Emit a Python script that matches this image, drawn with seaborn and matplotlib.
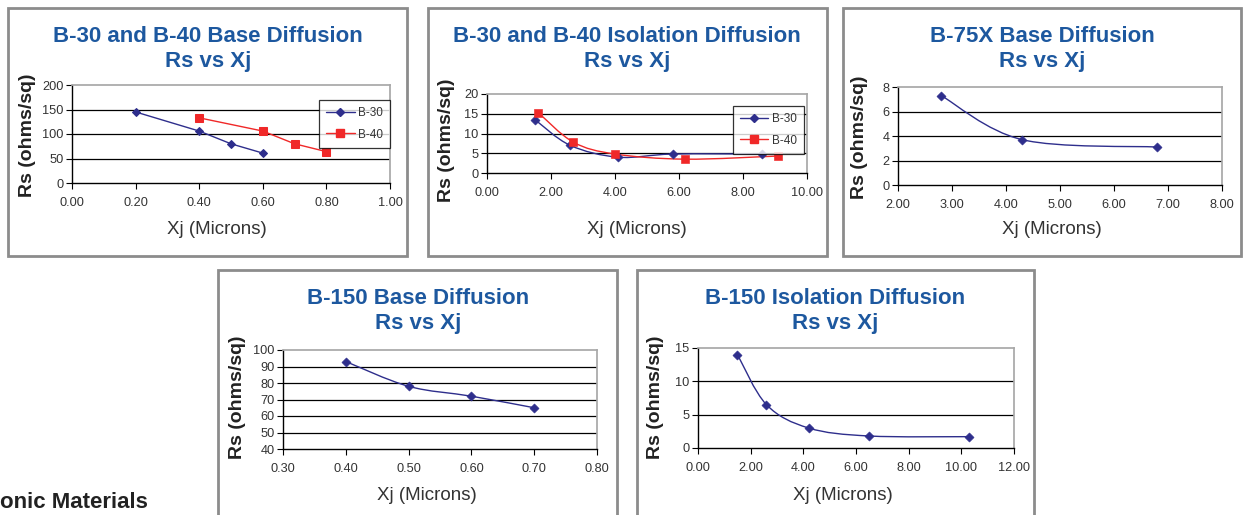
import matplotlib.pyplot as plt
import numpy as np
import seaborn as sns
from matplotlib.lines import Line2D
from matplotlib.patches import PathPatch, Rectangle
from matplotlib.path import Path

# --- data ---
base_b30_xj = [0.20, 0.40, 0.50, 0.60]
base_b30_rs = [145, 106, 80, 61]
base_b40_xj = [0.40, 0.60, 0.70, 0.80]
base_b40_rs = [133, 106, 80, 64]

iso_b30_xj = [1.5, 2.6, 4.1, 5.8, 8.6]
iso_b30_rs = [13.5, 7.0, 4.0, 4.8, 4.8]
iso_b40_xj = [1.6, 2.7, 4.0, 6.2, 9.1]
iso_b40_rs = [15.3, 7.8, 4.8, 3.5, 4.3]

b75x_xj = [2.8, 4.3, 6.8]
b75x_rs = [7.3, 3.7, 3.1]

b150_base_xj = [0.40, 0.50, 0.60, 0.70]
b150_base_rs = [93, 78, 72, 65]

b150_iso_xj = [1.5, 2.6, 4.2, 6.5, 10.3]
b150_iso_rs = [14.0, 6.5, 3.0, 1.8, 1.7]

BLUE = "#2e2e8c"
RED = "#f02828"
TITLE_BLUE = "#1d589f"
W, H = 1244, 515

sns.set_theme(style="white")
plt.rcParams["font.family"] = ["Liberation Sans", "DejaVu Sans"]

fig = plt.figure(figsize=(W / 100, H / 100), dpi=100)


def px_axes(left, top, right, bottom):
    return fig.add_axes([left / W, 1 - bottom / H, (right - left) / W, (bottom - top) / H])


def px_text(x, y, s, **kw):
    fig.text(x / W, 1 - y / H, s, ha="center", va="center", **kw)


def smooth_line(ax, xs, ys, color):
    # Excel-style smoothed line (Catmull-Rom as Bezier)
    pts = np.column_stack([xs, ys]).astype(float)
    n = len(pts)
    verts, codes = [pts[0]], [Path.MOVETO]
    for i in range(n - 1):
        p0, p1 = pts[max(i - 1, 0)], pts[i]
        p2, p3 = pts[i + 1], pts[min(i + 2, n - 1)]
        verts += [p1 + (p2 - p0) / 6, p2 - (p3 - p1) / 6, p2]
        codes += [Path.CURVE4] * 3
    ax.add_patch(PathPatch(Path(verts, codes), fill=False, edgecolor=color, lw=1.0, zorder=3))


def style_axes(ax, xticks, yticks):
    ax.set_xlim(xticks[0], xticks[-1])
    ax.set_ylim(yticks[0], yticks[-1])
    ax.set_xticks(xticks)
    ax.set_yticks(yticks)
    ax.set_xticklabels([f"{t:.2f}" for t in xticks])
    ax.set_yticklabels([str(t) for t in yticks])
    for t in yticks[1:-1]:
        ax.axhline(t, color="black", lw=0.9, zorder=1)
    for s in ["top", "right"]:
        ax.spines[s].set_color("#a8a8a8")
    for s in ["left", "bottom"]:
        ax.spines[s].set_color("black")
        ax.spines[s].set_linewidth(1.0)
    ax.tick_params(axis="both", direction="out", length=4, width=0.8, color="black",
                   labelsize=9.2, labelcolor="#333333")
    ax.tick_params(axis="x", pad=6)
    ax.tick_params(axis="y", pad=2)
    ax.xaxis.set_ticks_position("bottom")
    ax.yaxis.set_ticks_position("left")
    ax.set_xlabel("")
    ax.set_ylabel("")


def add_legend(ax, x0, y0):
    handles = [
        Line2D([], [], color=BLUE, lw=1, marker="D", markersize=4.5),
        Line2D([], [], color=RED, lw=1, marker="s", markersize=5.5),
    ]
    leg = ax.legend(handles, ["B-30", "B-40"], loc="upper left", bbox_to_anchor=(x0, y0),
                    borderaxespad=0, frameon=True, fancybox=False, fontsize=8.5,
                    handlelength=2.4, handletextpad=0.3, labelspacing=0.8,
                    borderpad=0.6, labelcolor="#333333")
    leg.get_frame().set_edgecolor("black")
    leg.get_frame().set_linewidth(0.9)


def panel_frame(x0, y0, x1, y1):
    fig.patches.append(Rectangle((x0 / W, 1 - y1 / H), (x1 - x0) / W, (y1 - y0) / H,
                                 transform=fig.transFigure, fill=False,
                                 edgecolor="#8c8c8c", lw=2.0))


def labels(cx, ty, xl, yl, title):
    px_text(cx, ty, title[0], fontsize=16, color=TITLE_BLUE, fontweight="bold")
    px_text(cx, ty + 25, title[1], fontsize=16, color=TITLE_BLUE, fontweight="bold")
    px_text(xl[0], xl[1], "Xj (Microns)", fontsize=13.5, color="#333333")
    px_text(yl[0], yl[1], "Rs (ohms/sq)", fontsize=14, color="#222222",
            rotation=90, fontweight="bold")


# 1: B-30 and B-40 base diffusion
panel_frame(8, 8, 407, 256)
ax1 = px_axes(72, 85, 390, 183)
sns.lineplot(x=base_b30_xj, y=base_b30_rs, ax=ax1, color=BLUE, marker="D",
             markersize=4.5, markeredgecolor=BLUE, lw=1)
sns.lineplot(x=base_b40_xj, y=base_b40_rs, ax=ax1, color=RED, marker="s",
             markersize=5.5, markeredgecolor=RED, lw=1)
style_axes(ax1, [0.0, 0.2, 0.4, 0.6, 0.8, 1.0], [0, 50, 100, 150, 200])
add_legend(ax1, 0.777, 0.847)
labels(208, 36, (217, 230), (27, 135), ["B-30 and B-40 Base Diffusion", "Rs vs Xj"])

# 2: B-30 and B-40 isolation diffusion
panel_frame(428, 8, 827, 256)
ax2 = px_axes(487, 94, 807, 173)
smooth_line(ax2, iso_b30_xj, iso_b30_rs, BLUE)
smooth_line(ax2, iso_b40_xj, iso_b40_rs, RED)
sns.scatterplot(x=iso_b30_xj, y=iso_b30_rs, ax=ax2, color=BLUE, marker="D", s=22,
                edgecolor=BLUE, zorder=4)
sns.scatterplot(x=iso_b40_xj, y=iso_b40_rs, ax=ax2, color=RED, marker="s", s=32,
                edgecolor=RED, zorder=4)
style_axes(ax2, [0.0, 2.0, 4.0, 6.0, 8.0, 10.0], [0, 5, 10, 15, 20])
add_legend(ax2, 0.769, 0.848)
labels(627, 36, (637, 230), (446, 140), ["B-30 and B-40 Isolation Diffusion", "Rs vs Xj"])

# 3: B-75X base diffusion
panel_frame(843, 8, 1241, 256)
ax3 = px_axes(898, 87, 1222, 185)
smooth_line(ax3, b75x_xj, b75x_rs, BLUE)
sns.scatterplot(x=b75x_xj, y=b75x_rs, ax=ax3, color=BLUE, marker="D", s=22,
                edgecolor=BLUE, zorder=4)
style_axes(ax3, [2.0, 3.0, 4.0, 5.0, 6.0, 7.0, 8.0], [0, 2, 4, 6, 8])
labels(1042, 36, (1052, 230), (860, 137), ["B-75X Base Diffusion", "Rs vs Xj"])

# 4: B-150 base diffusion
panel_frame(218, 270, 617, 560)
ax4 = px_axes(283, 350, 597, 449)
smooth_line(ax4, b150_base_xj, b150_base_rs, BLUE)
sns.scatterplot(x=b150_base_xj, y=b150_base_rs, ax=ax4, color=BLUE, marker="D", s=22,
                edgecolor=BLUE, zorder=4)
style_axes(ax4, [0.3, 0.4, 0.5, 0.6, 0.7, 0.8], [40, 50, 60, 70, 80, 90, 100])
labels(418, 298, (427, 495), (237, 397), ["B-150 Base Diffusion", "Rs vs Xj"])

# 5: B-150 isolation diffusion
panel_frame(637, 270, 1034, 560)
ax5 = px_axes(698, 348, 1014, 448)
smooth_line(ax5, b150_iso_xj, b150_iso_rs, BLUE)
sns.scatterplot(x=b150_iso_xj, y=b150_iso_rs, ax=ax5, color=BLUE, marker="D", s=22,
                edgecolor=BLUE, zorder=4)
style_axes(ax5, [0.0, 2.0, 4.0, 6.0, 8.0, 10.0, 12.0], [0, 5, 10, 15])
labels(835, 298, (843, 495), (655, 397), ["B-150 Isolation Diffusion", "Rs vs Xj"])

fig.text(0, 1 - 502 / H, "onic Materials", ha="left", va="center", fontsize=16,
         fontweight="bold", color="#222222")

fig.savefig("out.png", dpi=100)
